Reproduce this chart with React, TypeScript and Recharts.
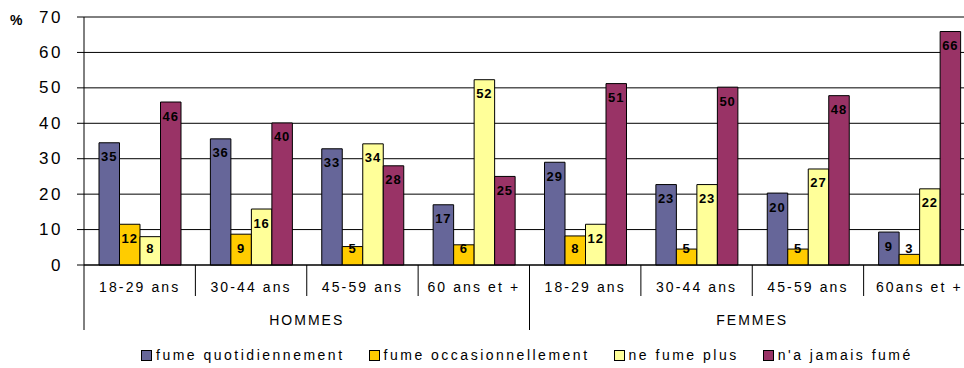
import React from 'react';
import { BarChart, Bar, XAxis, YAxis, CartesianGrid, Legend, LabelList } from 'recharts';

const ages = ['18-29 ans', '30-44 ans', '45-59 ans', '60 ans et +', '18-29 ans', '30-44 ans', '45-59 ans', '60ans et +'];
const sexes = ['HOMMES', 'HOMMES', 'HOMMES', 'HOMMES', 'FEMMES', 'FEMMES', 'FEMMES', 'FEMMES'];

const seriesNames = ['fume quotidiennement', 'fume occasionnellement', 'ne fume plus', "n'a jamais fumé"];
const quotidien = [34.5, 35.6, 32.8, 17.0, 29.0, 22.7, 20.3, 9.3];
const occasionnel = [11.5, 8.7, 5.2, 5.7, 8.2, 4.5, 4.5, 3.0];
const exFumeur = [8.0, 15.8, 34.2, 52.3, 11.5, 22.7, 27.1, 21.5];
const jamais = [46.0, 40.1, 28.0, 25.0, 51.2, 50.2, 47.8, 65.9];

const yTicks = [0, 10, 20, 30, 40, 50, 60, 70];

const colors = ['#666699', '#FFCC00', '#FFFF99', '#993366'];
const keys = ['quotidien', 'occasionnel', 'exFumeur', 'jamais'];
const FONT = '"Liberation Sans", Arial, Helvetica, sans-serif';

const data = ages.map((age, i) => ({
  age,
  sexe: sexes[i],
  quotidien: quotidien[i],
  occasionnel: occasionnel[i],
  exFumeur: exFumeur[i],
  jamais: jamais[i],
}));

const CHART_W = 990;
const PLOT_W = 891;

function ValueLabel(props: any) {
  const { x, y, width, height, value } = props;
  const base = y + height;
  const cy = Math.min(y + 14, base - 17);
  return (
    <text
      x={x + width / 2}
      y={cy}
      textAnchor="middle"
      dominantBaseline="central"
      fontFamily={FONT}
      fontSize={13}
      fontWeight="bold"
      letterSpacing={1}
      fill="#000"
    >
      {Math.round(Number(value))}
    </text>
  );
}

function YTick(props: any) {
  const { x, y, payload } = props;
  return (
    <text x={x} y={y} textAnchor="end" dominantBaseline="central" fontFamily={FONT} fontSize={17} letterSpacing={2.5} fill="#000">
      {payload.value}
    </text>
  );
}

function XTick(props: any) {
  const { x, y, payload } = props;
  const i = payload.index ?? props.index;
  const half = payload.offset || PLOT_W / ages.length / 2;
  const left = x - half;
  const long = i % 4 === 0;
  return (
    <g>
      <line x1={left} y1={y} x2={left} y2={y + (long ? 65 : 31)} stroke="#000" strokeWidth={1} />
      <text x={x} y={y + 22} textAnchor="middle" dominantBaseline="central" fontFamily={FONT} fontSize={14} letterSpacing={2.1} fill="#000">
        {payload.value}
      </text>
      {i % 4 === 1 && (
        <text x={x + half} y={y + 55} textAnchor="middle" dominantBaseline="central" fontFamily={FONT} fontSize={14} letterSpacing={2} fill="#000">
          {sexes[i]}
        </text>
      )}
    </g>
  );
}

function LegendContent(props: any) {
  const items = [...(props.payload || [])].sort(
    (a: any, b: any) => seriesNames.indexOf(a.value) - seriesNames.indexOf(b.value)
  );
  return (
    <div style={{ display: 'flex', alignItems: 'center', height: 20, fontFamily: FONT, fontSize: 14, letterSpacing: 2.5, color: '#000', whiteSpace: 'nowrap' }}>
      {items.map((entry: any) => (
        <div key={entry.value} style={{ display: 'flex', alignItems: 'center', marginRight: 24 }}>
          <span style={{ display: 'inline-block', width: 9, height: 9, border: '1px solid #000', background: entry.color, marginRight: 4 }} />
          <span>{entry.value}</span>
        </div>
      ))}
    </div>
  );
}

export default function App() {
  return (
    <div style={{ position: 'fixed', top: 0, left: 0, width: 964, height: 368, overflow: 'hidden', background: '#fff' }}>
      <BarChart
        width={CHART_W}
        height={368}
        data={data}
        margin={{ top: 17, right: 15, left: 0, bottom: 13 }}
        barGap={0}
        barSize={20.5}
      >
        <CartesianGrid horizontal vertical={false} stroke="#000" strokeWidth={1} />
        <XAxis
          dataKey="age"
          interval={0}
          height={70}
          tickSize={0}
          tickMargin={0}
          tickLine={false}
          axisLine={{ stroke: '#000' }}
          tick={<XTick />}
        />
        <YAxis
          domain={[0, 70]}
          ticks={yTicks}
          width={84}
          tickSize={7}
          tickMargin={14}
          tickLine={{ stroke: '#000' }}
          axisLine={{ stroke: '#000' }}
          tick={<YTick />}
          label={{
            content: ({ viewBox }: any) => (
              <text x={(viewBox?.x ?? 0) + 10} y={(viewBox?.y ?? 17) + 3} dominantBaseline="central" fontFamily={FONT} fontSize={14} fontWeight="bold" fill="#000">
                %
              </text>
            ),
          }}
        />
        <Legend
          verticalAlign="bottom"
          content={<LegendContent />}
          wrapperStyle={{ left: 141, bottom: 3, width: 840 }}
        />
        {keys.map((k, s) => (
          <Bar key={k} dataKey={k} name={seriesNames[s]} fill={colors[s]} stroke="#000" strokeWidth={1} isAnimationActive={false}>
            <LabelList dataKey={k} content={<ValueLabel />} />
          </Bar>
        ))}
      </BarChart>
    </div>
  );
}
